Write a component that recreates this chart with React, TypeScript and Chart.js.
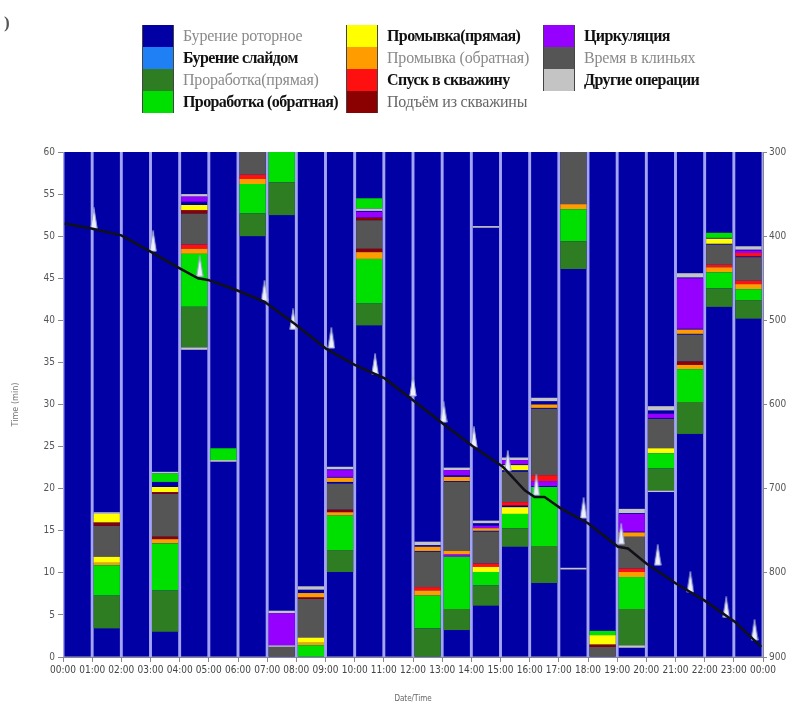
import React, { useEffect, useRef } from "react";
import { Chart, registerables } from "chart.js";

Chart.register(...registerables);

type Seg = [number, number, number]; // [hour index, start minute, end minute]

// x-axis tick labels (hour boundaries)
const tickLabels = [
  "00:00", "01:00", "02:00", "03:00", "04:00", "05:00", "06:00", "07:00", "08:00",
  "09:00", "10:00", "11:00", "12:00", "13:00", "14:00", "15:00", "16:00", "17:00",
  "18:00", "19:00", "20:00", "21:00", "22:00", "23:00", "00:00",
];

// operation names
const opNames = [
  "Бурение роторное", "Бурение слайдом", "Проработка(прямая)", "Проработка (обратная)",
  "Промывка(прямая)", "Промывка (обратная)", "Спуск в скважину", "Подъём из скважины",
  "Циркуляция", "Время в клиньях", "Другие операции",
];

// intervals per operation: [hour, start min, end min]
const rotaryDrilling: Seg[] = [
  [0, 0, 60], [1, 0, 60], [2, 0, 60], [3, 0, 60], [4, 0, 60], [5, 0, 60], [6, 0, 60], [7, 0, 60],
  [8, 0, 60], [9, 0, 60], [10, 0, 60], [11, 0, 60], [12, 0, 60], [13, 0, 60], [14, 0, 60], [15, 0, 60],
  [16, 0, 60], [17, 0, 60], [18, 0, 60], [19, 0, 60], [20, 0, 60], [21, 0, 60], [22, 0, 60], [23, 0, 60],
];
const slideDrilling: Seg[] = [];
const reamForward: Seg[] = [
  [1, 3.4, 7.3], [3, 3.0, 7.9], [4, 36.8, 41.6], [6, 50.0, 52.7], [7, 52.5, 56.4], [9, 10.1, 12.7],
  [10, 39.4, 42.0], [12, 0, 3.4], [13, 3.2, 5.7], [14, 6.1, 8.5], [15, 13.1, 15.3], [16, 8.8, 13.2],
  [17, 46.1, 49.4], [19, 1.4, 5.7], [20, 19.8, 22.4], [21, 26.5, 30.3], [22, 41.6, 43.8], [23, 40.2, 42.4],
];
const reamBack: Seg[] = [
  [1, 7.3, 10.9], [3, 7.9, 13.5], [3, 20.8, 21.8], [4, 41.6, 47.9], [5, 23.4, 24.8], [6, 52.7, 56.2],
  [7, 56.4, 60], [8, 0, 1.4], [9, 12.7, 16.8], [10, 42.0, 47.3], [10, 53.3, 54.5], [12, 3.4, 7.3],
  [13, 5.7, 11.9], [14, 8.5, 10.1], [15, 15.3, 17.0], [16, 13.2, 20.2], [17, 49.4, 53.2], [18, 2.6, 3.1],
  [19, 5.7, 9.5], [20, 22.4, 24.2], [21, 30.3, 34.2], [22, 43.8, 45.7], [22, 49.8, 50.4], [23, 42.4, 43.7],
];
const flushDirect: Seg[] = [
  [1, 11.2, 11.9], [1, 16.0, 17.0], [3, 19.6, 20.2], [4, 53.1, 53.7], [8, 1.7, 2.3], [14, 10.1, 10.7],
  [15, 17.0, 17.8], [15, 22.2, 22.8], [18, 1.5, 2.6], [20, 24.2, 24.8], [22, 49.1, 49.7],
];
const flushReverse: Seg[] = [
  [1, 10.9, 11.2], [3, 13.5, 14.0], [4, 47.9, 48.5], [6, 56.2, 56.8], [8, 1.4, 1.7], [8, 7.1, 7.6],
  [9, 16.8, 17.2], [9, 20.8, 21.3], [10, 47.3, 48.1], [12, 7.3, 7.9], [12, 12.6, 13.1], [13, 12.2, 12.6],
  [13, 20.9, 21.4], [14, 15.0, 15.3], [16, 29.6, 30.0], [17, 53.2, 53.8], [19, 9.5, 10.1], [19, 14.3, 14.8],
  [21, 34.2, 34.7], [21, 38.4, 38.9], [22, 45.7, 46.3], [23, 43.7, 44.3],
];
const tripIn: Seg[] = [
  [4, 48.5, 49.0], [6, 56.8, 57.3], [12, 7.9, 8.3], [14, 10.7, 11.1], [15, 18.0, 18.4], [16, 20.9, 21.6],
  [19, 10.1, 10.5], [22, 46.3, 46.6], [23, 44.3, 44.7], [23, 47.6, 48.0],
];
const tripOut: Seg[] = [
  [1, 15.6, 16.0], [3, 14.0, 14.3], [3, 19.4, 19.6], [4, 52.7, 53.1], [8, 6.9, 7.1], [9, 17.2, 17.5],
  [10, 48.1, 48.5], [10, 51.9, 52.2], [18, 1.2, 1.5], [21, 34.7, 35.1],
];
const circulation: Seg[] = [
  [4, 54.1, 54.7], [7, 1.4, 5.2], [9, 21.4, 22.2], [10, 52.2, 52.9], [13, 11.9, 12.2], [13, 21.6, 22.2],
  [14, 15.3, 15.6], [15, 22.9, 23.4], [16, 20.3, 20.9], [19, 14.9, 17.0], [20, 28.4, 28.9], [21, 39.0, 45.0],
  [23, 48.0, 48.3],
];
const inSlips: Seg[] = [
  [1, 11.9, 15.6], [3, 14.3, 19.4], [4, 49.0, 52.7], [6, 57.3, 60], [7, 0, 1.2], [8, 2.3, 6.9],
  [9, 17.5, 20.6], [10, 48.5, 51.9], [12, 8.3, 12.5], [13, 12.6, 20.8], [14, 11.1, 14.9], [15, 18.4, 22.0],
  [16, 21.6, 29.5], [17, 53.8, 60], [18, 0, 1.2], [19, 10.5, 14.3], [20, 24.8, 28.3], [21, 35.1, 38.3],
  [22, 46.6, 49.0], [23, 44.7, 47.5],
];
const otherOps: Seg[] = [
  [1, 17.0, 17.2], [3, 21.8, 22.0], [4, 36.5, 36.8], [4, 54.7, 55.0], [5, 23.2, 23.4], [7, 1.2, 1.4],
  [7, 5.2, 5.5], [8, 8.0, 8.4], [9, 22.3, 22.6], [10, 53.0, 53.3], [12, 13.3, 13.7], [13, 22.2, 22.5],
  [14, 15.9, 16.2], [14, 51.0, 51.2], [15, 23.4, 23.7], [16, 30.4, 30.8], [17, 10.4, 10.6], [19, 1.1, 1.4],
  [19, 17.1, 17.6], [20, 19.6, 19.8], [20, 29.3, 29.8], [21, 45.1, 45.6], [23, 48.4, 48.8],
];

// depth line (right axis, m)
const depthHours = [0.06, 0.97, 2.0, 3.03, 3.94, 4.63, 4.97, 5.94, 6.91, 7.94, 9.03, 10.0, 11.03, 12.0,
  13.03, 14.06, 15.08, 15.83, 16.17, 16.51, 17.09, 18.0, 19.03, 19.37, 20.0, 21.03, 22.0, 23.03, 23.94];
const depthValues = [385, 391, 399, 419, 437, 450, 452, 464, 478, 504, 534, 553, 569, 595,
  623, 650, 674, 702, 710, 710, 724, 741, 769, 771, 789, 813, 833, 858, 888];

// bit markers
const markerHours = [1.06, 3.09, 4.69, 6.91, 7.89, 9.2, 10.7, 12.0, 13.05, 14.09, 15.25, 16.23,
  17.85, 19.14, 20.39, 21.51, 22.74, 23.71];
const markerDepths = [379, 406, 436, 465, 499, 521, 552, 578, 609, 639, 667, 696,
  723, 754, 779, 811, 841, 868];

const opColors = [
  "#0000a4", "#1f80f5", "#2f7d22", "#00e000", "#ffff00", "#ff9c00",
  "#ff1010", "#8b0000", "#9500ff", "#555555", "#c4c4c4",
];
const opSegments = [
  rotaryDrilling, slideDrilling, reamForward, reamBack, flushDirect, flushReverse,
  tripIn, tripOut, circulation, inSlips, otherOps,
];

const legendStyle = [
  { c: "#8a8a8a", b: false }, { c: "#111", b: true }, { c: "#8a8a8a", b: false }, { c: "#111", b: true },
  { c: "#111", b: true }, { c: "#8a8a8a", b: false }, { c: "#111", b: true }, { c: "#666", b: false },
  { c: "#111", b: true }, { c: "#8a8a8a", b: false }, { c: "#111", b: true },
];
const legendCols = [
  { x: 142, items: [0, 1, 2, 3] },
  { x: 346, items: [4, 5, 6, 7] },
  { x: 543, items: [8, 9, 10] },
];

const tickFont = "'Liberation Sans Narrow', 'DejaVu Sans Condensed', 'Liberation Sans', sans-serif";

function splitLayers(segs: Seg[]): Seg[][] {
  const out: Seg[][] = [];
  for (const s of segs) {
    let layer = out.find((L) => !L.some((t) => t[0] === s[0]));
    if (!layer) {
      layer = [];
      out.push(layer);
    }
    layer.push(s);
  }
  return out;
}

function makeMarker(): HTMLCanvasElement {
  const c = document.createElement("canvas");
  c.width = 8;
  c.height = 22;
  const g = c.getContext("2d")!;
  g.beginPath();
  g.moveTo(4, 0.5);
  g.lineTo(7.2, 21);
  g.lineTo(0.8, 21);
  g.closePath();
  g.fillStyle = "#eef0ff";
  g.fill();
  g.strokeStyle = "#9aa2d0";
  g.lineWidth = 1;
  g.stroke();
  return c;
}

const plotBg = {
  id: "plotBg",
  beforeDatasetsDraw(chart: any) {
    const { ctx, chartArea } = chart;
    ctx.save();
    ctx.fillStyle = "#a4a4f4";
    ctx.fillRect(chartArea.left, chartArea.top, chartArea.right - chartArea.left, chartArea.bottom - chartArea.top);
    ctx.restore();
  },
};

export default function App() {
  const ref = useRef<HTMLCanvasElement>(null);

  useEffect(() => {
    const datasets: any[] = [];
    datasets.push({
      type: "line",
      label: "Глубина",
      data: depthHours.map((h, i) => ({ x: h, y: depthValues[i] })),
      yAxisID: "y1",
      xAxisID: "x",
      borderColor: "#101018",
      borderWidth: 2.5,
      pointRadius: 0,
      tension: 0,
      order: 0,
    });
    datasets.push({
      type: "scatter",
      label: "Долото",
      data: markerHours.map((h, i) => ({ x: h, y: markerDepths[i] })),
      yAxisID: "y1",
      xAxisID: "x",
      pointStyle: makeMarker(),
      pointRadius: 6,
      order: 1,
    });
    opSegments.forEach((segs, oi) => {
      splitLayers(segs).forEach((layer) => {
        datasets.push({
          type: "bar",
          label: opNames[oi],
          data: layer.map(([h, a, b]) => ({ x: h + 0.5, y: [a, b] })),
          backgroundColor: opColors[oi],
          borderWidth: 0,
          grouped: false,
          barPercentage: 0.9,
          categoryPercentage: 1,
          yAxisID: "y",
          xAxisID: "x",
          order: oi === 0 ? 3 : 2,
        });
      });
    });

    const chart = new Chart(ref.current!, {
      type: "bar",
      data: { datasets },
      plugins: [plotBg],
      options: {
        responsive: false,
        animation: false,
        layout: { padding: { top: 152, left: 0, right: 0, bottom: 0 } },
        plugins: { legend: { display: false }, tooltip: { enabled: false } },
        scales: {
          x: {
            type: "linear",
            min: 0,
            max: 24,
            offset: false,
            ticks: {
              stepSize: 1,
              autoSkip: false,
              maxRotation: 0,
              padding: 2,
              color: "#444",
              font: { size: 10, family: tickFont },
              callback: (v: any) => tickLabels[Number(v)] ?? "",
            },
            grid: { drawOnChartArea: false, drawTicks: true, tickLength: 5, color: "#888", offset: false },
            border: { display: true, color: "#888" },
            title: { display: true, text: "Date/Time", color: "#666", font: { size: 8, family: tickFont }, padding: { top: 2, bottom: 0 } },
            afterFit: (s: any) => { s.height = 47; },
          } as any,
          y: {
            type: "linear",
            position: "left",
            min: 0,
            max: 60,
            ticks: { stepSize: 5, color: "#555", padding: 3, font: { size: 10, family: tickFont } },
            grid: { drawOnChartArea: false, drawTicks: true, tickLength: 5, color: "#888" },
            border: { display: true, color: "#888" },
            title: { display: true, text: "Time (min)", color: "#777", font: { size: 9, family: tickFont }, padding: { top: 10, bottom: 0 } },
            afterFit: (s: any) => { s.width = 63; },
          } as any,
          y1: {
            type: "linear",
            position: "right",
            min: 300,
            max: 900,
            reverse: true,
            ticks: { stepSize: 100, color: "#555", padding: 2, font: { size: 10, family: tickFont } },
            grid: { drawOnChartArea: false, drawTicks: true, tickLength: 4, color: "#888" },
            border: { display: true, color: "#888" },
            afterFit: (s: any) => { s.width = 25; },
          } as any,
        },
      } as any,
    });
    return () => chart.destroy();
  }, []);

  return (
    <div style={{ position: "absolute", left: 0, top: 0, width: 788, height: 704, background: "#fff", overflow: "hidden" }}>
      <canvas ref={ref} width={788} height={704} style={{ position: "absolute", left: 0, top: 0, width: 788, height: 704 }} />
      <span style={{ position: "absolute", left: 4, top: 13, fontFamily: "'Liberation Serif', serif", fontSize: 17, fontWeight: "bold", color: "#555" }}>)</span>
      {legendCols.map((col, ci) => (
        <div key={ci} style={{ position: "absolute", left: col.x, top: 25 }}>
          {col.items.map((oi) => (
            <div key={oi} style={{ display: "flex", alignItems: "center", height: 22 }}>
              <div style={{ width: 32, height: 22, background: opColors[oi], boxSizing: "border-box", borderLeft: "1px solid #444", borderRight: "1px solid #444" }} />
              <span
                style={{
                  marginLeft: 9,
                  fontFamily: "'Liberation Serif', 'DejaVu Serif', serif",
                  fontSize: 16,
                  fontWeight: legendStyle[oi].b ? "bold" : "normal",
                  letterSpacing: legendStyle[oi].b ? -0.6 : -0.2,
                  color: legendStyle[oi].c,
                  whiteSpace: "nowrap",
                  lineHeight: "22px",
                }}
              >
                {opNames[oi]}
              </span>
            </div>
          ))}
        </div>
      ))}
    </div>
  );
}
